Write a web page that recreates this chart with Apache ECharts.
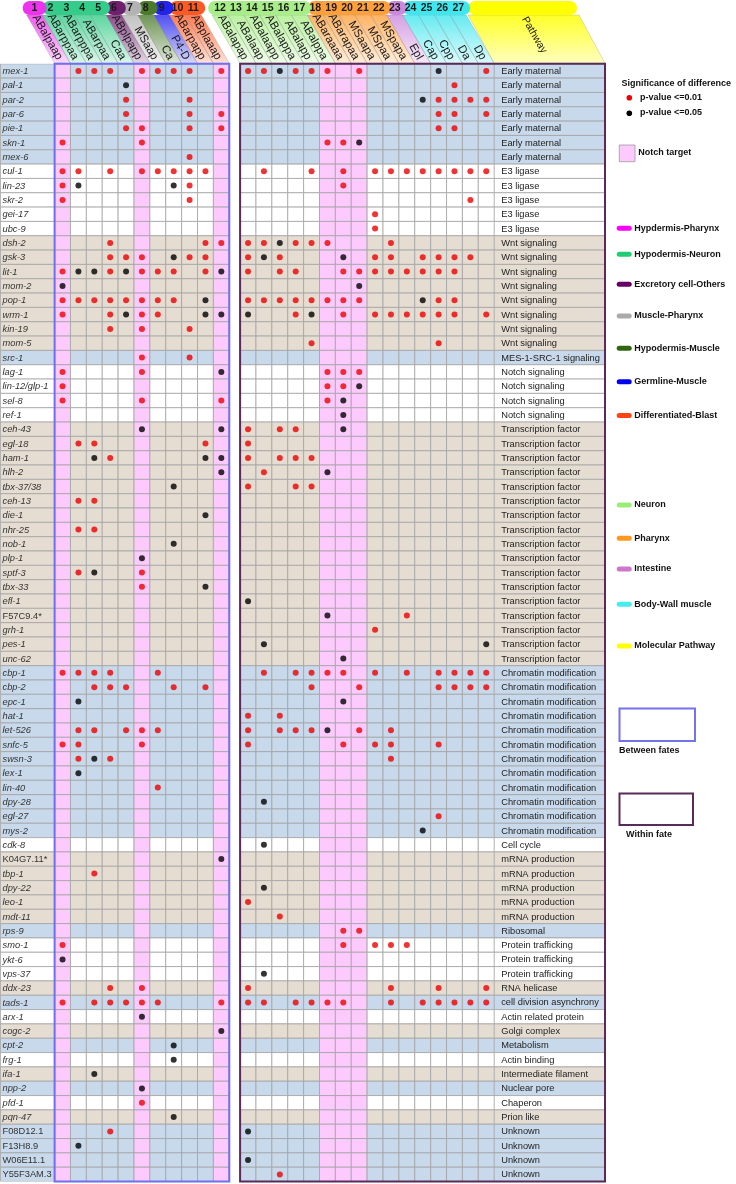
<!DOCTYPE html>
<html><head><meta charset="utf-8">
<script src="https://cdn.jsdelivr.net/npm/echarts@6/dist/echarts.min.js"></script>
<style>html,body{margin:0;padding:0;background:#fff;}#chart{width:736px;height:1184px;}</style>
</head><body><div id="chart"></div>
<script>
// ================= DATA =================
const columnLabels = ['ABalpaap','ABarppaa','ABarpppa','ABarpaa','Caa','ABplpapp','MSaap','Ca','P4-D','ABarpapp','ABplaaap',
  'ABalapap','ABalaap','ABalaapp','ABalappa','ABalapp','ABalppa','ABaraaaa','ABarapaa','MSaapa','MSpaa','MSpapa','Epl','Cap','Cpp','Da','Dp'];
const columnNumbers = ['1','2','3','4','5','6','7','8','9','10','11','12','13','14','15','16','17','18','19','20','21','22','23','24','25','26','27'];
const notchTargetColumns = [1, 6, 11, 17, 18, 19];
const fateGroupNames = ['Hypdermis-Pharynx','Hypodermis-Neuron','Excretory cell-Others','Muscle-Pharynx','Hypodermis-Muscle','Germline-Muscle','Differentiated-Blast','Neuron','Pharynx','Intestine','Body-Wall muscle'];
const fateGroupColumns = [[1,1],[2,5],[6,6],[7,7],[8,8],[9,9],[10,11],[12,17],[18,22],[23,23],[24,27]];

const genes = ['mex-1','pal-1','par-2','par-6','pie-1','skn-1','mex-6','cul-1','lin-23','skr-2','gei-17','ubc-9',
  'dsh-2','gsk-3','lit-1','mom-2','pop-1','wrm-1','kin-19','mom-5','src-1','lag-1','lin-12/glp-1','sel-8','ref-1',
  'ceh-43','egl-18','ham-1','hlh-2','tbx-37/38','ceh-13','die-1','nhr-25','nob-1','plp-1','sptf-3','tbx-33','efl-1',
  'F57C9.4*','grh-1','pes-1','unc-62','cbp-1','cbp-2','epc-1','hat-1','let-526','snfc-5','swsn-3','lex-1','lin-40',
  'dpy-28','egl-27','mys-2','cdk-8','K04G7.11*','tbp-1','dpy-22','leo-1','mdt-11','rps-9','smo-1','ykt-6','vps-37',
  'ddx-23','tads-1','arx-1','cogc-2','cpt-2','frg-1','ifa-1','npp-2','pfd-1','pqn-47','F08D12.1','F13H8.9','W06E11.1','Y55F3AM.3'];
const nonItalicGenes = ['F57C9.4*','K04G7.11*','F08D12.1','F13H8.9','W06E11.1','Y55F3AM.3'];

const pathways = ['Early maternal','Early maternal','Early maternal','Early maternal','Early maternal','Early maternal','Early maternal',
  'E3 ligase','E3 ligase','E3 ligase','E3 ligase','E3 ligase',
  'Wnt signaling','Wnt signaling','Wnt signaling','Wnt signaling','Wnt signaling','Wnt signaling','Wnt signaling','Wnt signaling',
  'MES-1-SRC-1 signaling',
  'Notch signaling','Notch signaling','Notch signaling','Notch signaling',
  'Transcription factor','Transcription factor','Transcription factor','Transcription factor','Transcription factor','Transcription factor',
  'Transcription factor','Transcription factor','Transcription factor','Transcription factor','Transcription factor','Transcription factor',
  'Transcription factor','Transcription factor','Transcription factor','Transcription factor','Transcription factor',
  'Chromatin modification','Chromatin modification','Chromatin modification','Chromatin modification','Chromatin modification','Chromatin modification',
  'Chromatin modification','Chromatin modification','Chromatin modification','Chromatin modification','Chromatin modification','Chromatin modification',
  'Cell cycle',
  'mRNA production','mRNA production','mRNA production','mRNA production','mRNA production',
  'Ribosomal',
  'Protein trafficking','Protein trafficking','Protein trafficking',
  'RNA helicase','cell division asynchrony','Actin related protein','Golgi complex','Metabolism','Actin binding',
  'Intermediate filament','Nuclear pore','Chaperon','Prion like',
  'Unknown','Unknown','Unknown','Unknown'];

// significance per gene row: columns 1-11 | 12-27 ; r = p<=0.01, k = p<=0.05
const marks = [
  '.rrr.rrrr.r rrkrrr.r....k..r','....k...... .............r..','....r...r.. ...........krrrr','....r...r.r ............rr.r',
  '....rr..r.r ............rr..','r....r..... .....rrk........','........r.. ................','rr.r.rrrrr. .r..r.r.rrrrrrrr',
  'rk.....kr.. ......r.........','r.......r.. ..............r.','........... ........r.......','........... ........r.......',
  '...r.....rr rrkrrr...r......','...rrr.krr. rkr...k.rr.rrrr.','rkkrkrrr.rk r.rr..rrrrrrrr..','k.......... .......k........',
  'rrrrrrrr.k. rrrrrrrr...krr..','r..rkrr..kk k..rk.r.rrrrrr.r','...r.r..r.. ................','........... ....r.......r...',
  '.....r..r.. ................','r....r....k .....rrr........','r.......... .....rrk........','r....r....r .....rk.........',
  '........... ......k.........','.....k....k r.rr..k.........','.rr......r. r...............','..kr.....kk r.rrr...........',
  '..........k .r...k..........','.......k... r..rr...........','.rr........ ................','.........k. ................',
  '.rr........ ................','.......k... ................','.....k..... ................','.rk..r..... ................',
  '.....r...k. ................','........... k...............','........... .....k....r.....','........... ........r.......',
  '........... .k.............k','........... ......k.........','rrrr..r.... .r.rrrr.r.r.rrrr','..rrr..r.r. ....r..r....rrrr',
  '.k......... ......k.........','........... r.r.............','.rr.rrr.... r.rrrk.r.r......','rr...r..... r.....r.rr..r...',
  '.rkr....... .........r......','.k......... ................','......r.... ................','........... .k..............',
  '........... ............r...','........... ...........k....','........... .k..............','..........k ................',
  '..r........ ................','........... .k..............','........... r...............','........... ..r.............',
  '........... ......rr........','r.......... ......r.rrr.....','k.......... ................','........... .k..............',
  '...r.r..... r........r..r..r','r.rrrrr...r rr.rrrr..r.rrrrr','.....k..... ................','..........k ................',
  '.......k... ................','.......k... ................','..k........ ................','.....k..... ................',
  '.....r..... ................','.......k... ................','...r....... k...............','.k......... ................',
  '........... k...............','........... ..r.............'
].map(s => s.replace(' ', ''));

// ================= STYLE / LAYOUT =================
const FONT = '"Liberation Sans", Arial, sans-serif';
const PINK = '#fccafc';
const BAND_COLORS = ['#c7d9eb', '#ffffff', '#e6ddd2'];
const LINE = '#a3a3a3';
const RED = '#ee0000', BLACK = '#000000';
const GROUP_COLORS = ['#ee33ee','#33cc88','#6e1f6e','#b3b3b3','#4a7a2a','#2323ee','#ff5a26','#a8ee88','#ffa03c','#cc88dd','#3ee6ee'];
const LEGEND_COLORS = ['#ff00ff','#22cc77','#660066','#aaaaaa','#336611','#0000ee','#ff4411','#99ee77','#ff9922','#cc77cc','#44eeee','#ffff00'];
const PATH_COLOR = '#ffff00';

const TOP = 63.8, ROWH = 14.33, NROW = genes.length, GH = NROW * ROWH;
const COLW = 15.88, NL = 11, NRC = 16;
const GENE_X = 0.5, L_X = 54.6, R_X = 240.1, P_X = R_X + NRC * COLW, P_END = 605;
const HSHIFT = 28, HBAR_TOP = 1, HBAR_BOT = 15;

const rowBand = [];
(function(){ let g = -1; pathways.forEach((p, i) => { if (i === 0 || p !== pathways[i - 1]) g++; rowBand.push(g % 3); }); })();
function fillFor(colNum, row) { return notchTargetColumns.indexOf(colNum) >= 0 ? PINK : BAND_COLORS[rowBand[row]]; }
function rectOf(api) {
  const p = api.coord([api.value(0), api.value(1)]);
  const s = api.size([1, 1]);
  return { x: p[0] - s[0] / 2, y: p[1] - s[1] / 2, width: s[0], height: s[1], cx: p[0], cy: p[1] };
}
function cellRender(params, api) {
  const r = rectOf(api);
  return { type: 'rect', shape: { x: r.x, y: r.y, width: r.width, height: r.height },
    style: { fill: fillFor(api.value(2), api.value(1)), stroke: LINE, lineWidth: 0.8 } };
}
function geneRender(params, api) {
  const r = rectOf(api); const i = api.value(1); const name = genes[i];
  const it = nonItalicGenes.indexOf(name) >= 0 ? '' : 'italic ';
  return { type: 'group', children: [
    { type: 'rect', shape: { x: r.x, y: r.y, width: r.width, height: r.height }, style: { fill: BAND_COLORS[rowBand[i]], stroke: LINE, lineWidth: 0.8 } },
    { type: 'text', style: { x: r.x + 2, y: r.cy + 0.5, text: name, font: it + '9.3px ' + FONT, fill: '#333', align: 'left', verticalAlign: 'middle', textAlign: 'left', textVerticalAlign: 'middle' } }
  ]};
}
function pathRender(params, api) {
  const r = rectOf(api); const i = api.value(1);
  return { type: 'group', children: [
    { type: 'rect', shape: { x: r.x, y: r.y, width: r.width, height: r.height }, style: { fill: BAND_COLORS[rowBand[i]], stroke: LINE, lineWidth: 0.8 } },
    { type: 'text', style: { x: r.x + 7, y: r.cy + 0.5, text: pathways[i], font: '9.3px ' + FONT, fill: '#222', align: 'left', verticalAlign: 'middle', textAlign: 'left', textVerticalAlign: 'middle' } }
  ]};
}

// series data built from arrays
const leftCells = [], rightCells = [], geneCells = [], pathCells = [];
const redL = [], blackL = [], redR = [], blackR = [];
genes.forEach((g, r) => {
  geneCells.push([0, r]); pathCells.push([0, r]);
  for (let c = 0; c < NL; c++) leftCells.push([c, r, c + 1]);
  for (let c = 0; c < NRC; c++) rightCells.push([c, r, c + 12]);
  const m = marks[r];
  for (let k = 0; k < m.length; k++) {
    const ch = m[k]; if (ch === '.') continue;
    if (k < NL) (ch === 'r' ? redL : blackL).push([k, r]);
    else (ch === 'r' ? redR : blackR).push([k - NL, r]);
  }
});

function colCenter(n) { return n <= NL ? L_X + (n - 0.5) * COLW : R_X + (n - NL - 0.5) * COLW; }
function slotCenter(n) { return colCenter(n) - HSHIFT; }
function hexA(hex, a) { const v = parseInt(hex.slice(1), 16); return 'rgba(' + (v >> 16) + ',' + ((v >> 8) & 255) + ',' + (v & 255) + ',' + a + ')'; }

// ================= GRAPHICS (header + legend) =================
const gfx = [];
columnLabels.forEach((lab, i) => {
  const n = i + 1;
  const gi = fateGroupColumns.findIndex(g => n >= g[0] && n <= g[1]);
  const col = GROUP_COLORS[gi];
  const sx = slotCenter(n), cx = colCenter(n), h = COLW / 2;
  gfx.push({ type: 'polygon', z: 1, shape: { points: [[sx - h, HBAR_BOT], [sx + h, HBAR_BOT], [cx + h, TOP - 0.5], [cx - h, TOP - 0.5]] },
    style: { fill: { type: 'linear', x: 0, y: 0, x2: 0, y2: 1, colorStops: [{ offset: 0, color: hexA(col, 0.8) }, { offset: 1, color: hexA(col, 0.18) }] },
      stroke: 'rgba(130,130,130,0.55)', lineWidth: 0.5 } });
});
gfx.push({ type: 'polygon', z: 1, shape: { points: [[P_X - 26, HBAR_BOT], [P_END - 26, HBAR_BOT], [P_END, TOP - 0.5], [P_X, TOP - 0.5]] },
  style: { fill: { type: 'linear', x: 0, y: 0, x2: 0, y2: 1, colorStops: [{ offset: 0, color: hexA(PATH_COLOR, 0.85) }, { offset: 1, color: hexA(PATH_COLOR, 0.25) }] },
    stroke: 'rgba(130,130,130,0.55)', lineWidth: 0.5 } });
const ang = Math.atan2(TOP - HBAR_BOT, HSHIFT);
columnLabels.forEach((lab, i) => {
  const n = i + 1; const sx = slotCenter(n), cx = colCenter(n);
  const yEnd = 59; const xEnd = sx + (cx - sx) * (yEnd - HBAR_BOT) / (TOP - HBAR_BOT);
  gfx.push({ type: 'text', z: 3, x: xEnd, y: yEnd, rotation: -ang,
    style: { text: lab, font: '11.5px ' + FONT, fill: '#1a1a1a', align: 'right', verticalAlign: 'middle', textAlign: 'right', textVerticalAlign: 'middle' } });
});
gfx.push({ type: 'text', z: 3, x: (P_X + P_END) / 2 - 26 + 26 * (35 - HBAR_BOT) / (TOP - HBAR_BOT), y: 35, rotation: -ang,
  style: { text: 'Pathway', font: '10.5px ' + FONT, fill: '#1a1a1a', align: 'center', verticalAlign: 'middle', textAlign: 'center', textVerticalAlign: 'middle' } });
gfx.push({ type: 'rect', z: 4, shape: { x: P_X - 26, y: HBAR_TOP, width: P_END - P_X - 2, height: HBAR_BOT - HBAR_TOP, r: 7 }, style: { fill: PATH_COLOR } });
for (let gi = fateGroupColumns.length - 1; gi >= 0; gi--) {
  const [a, b] = fateGroupColumns[gi];
  const first = (a === 1 || a === 12);
  const x0 = slotCenter(a) - COLW / 2 - (first ? 4 : 0);
  const x1 = slotCenter(b) + COLW / 2 + 4;
  gfx.push({ type: 'rect', z: 4, shape: { x: x0, y: HBAR_TOP, width: x1 - x0, height: HBAR_BOT - HBAR_TOP, r: 7 }, style: { fill: GROUP_COLORS[gi] } });
}
columnNumbers.forEach((t, i) => {
  gfx.push({ type: 'text', z: 5, x: slotCenter(i + 1), y: 8.5,
    style: { text: t, font: 'bold 10.5px ' + FONT, fill: '#1a1a1a', align: 'center', verticalAlign: 'middle', textAlign: 'center', textVerticalAlign: 'middle' } });
});
gfx.push({ type: 'rect', z: 20, shape: { x: L_X, y: TOP, width: NL * COLW, height: GH }, style: { fill: 'none', stroke: '#6f6fef', lineWidth: 2 } });
gfx.push({ type: 'rect', z: 20, shape: { x: R_X, y: TOP, width: P_END - R_X, height: GH }, style: { fill: 'none', stroke: '#5a2a5a', lineWidth: 2 } });

const LBOLD = 'bold 9px ' + FONT;
function ltext(t, x, y) { gfx.push({ type: 'text', z: 10, x: x, y: y, style: { text: t, font: LBOLD, fill: '#111', align: 'left', verticalAlign: 'middle', textAlign: 'left', textVerticalAlign: 'middle' } }); }
ltext('Significance of difference', 621.5, 83.5);
gfx.push({ type: 'circle', z: 10, shape: { cx: 629.3, cy: 97.7, r: 2.8 }, style: { fill: RED } });
ltext('p-value <=0.01', 640, 97.5);
gfx.push({ type: 'circle', z: 10, shape: { cx: 629.3, cy: 113.3, r: 2.8 }, style: { fill: BLACK } });
ltext('p-value <=0.05', 640, 113);
gfx.push({ type: 'rect', z: 10, shape: { x: 619.3, y: 145, width: 15.7, height: 16.7 }, style: { fill: PINK, stroke: '#999', lineWidth: 0.8 } });
ltext('Notch target', 638.3, 152.7);
const legendYs = [228.3, 254.3, 284.3, 316, 348.3, 381.7, 415.5, 505, 538.3, 569, 604.3, 646];
const legendNames = fateGroupNames.concat(['Molecular Pathway']);
legendNames.forEach((nm, i) => {
  gfx.push({ type: 'rect', z: 10, shape: { x: 616.7, y: legendYs[i] - 2.5, width: 15, height: 5, r: 2.5 }, style: { fill: LEGEND_COLORS[i] } });
  ltext(nm, 634.3, legendYs[i]);
});
gfx.push({ type: 'rect', z: 10, shape: { x: 619.5, y: 708.5, width: 75.5, height: 32.5 }, style: { fill: '#fff', stroke: '#7373ee', lineWidth: 2 } });
ltext('Between fates', 619, 751);
gfx.push({ type: 'rect', z: 10, shape: { x: 619.5, y: 793.5, width: 73.5, height: 31.5 }, style: { fill: '#fff', stroke: '#5a2a5a', lineWidth: 2 } });
ltext('Within fate', 626, 834.5);

// ================= CHART =================
const chart = echarts.init(document.getElementById('chart'), null, { renderer: 'canvas' });
const grids = [
  { left: GENE_X, top: TOP, width: L_X - GENE_X, height: GH },
  { left: L_X, top: TOP, width: NL * COLW, height: GH },
  { left: R_X, top: TOP, width: NRC * COLW, height: GH },
  { left: P_X, top: TOP, width: P_END - P_X, height: GH }
];
const xData = [['gene'], columnLabels.slice(0, NL), columnLabels.slice(NL), ['Pathway']];
const dot = (name, data, gi, color) => ({ name: name, type: 'scatter', xAxisIndex: gi, yAxisIndex: gi, data: data, symbol: 'circle', symbolSize: 6,
  itemStyle: { color: color }, z: 6, silent: true, animation: false });
chart.setOption({
  backgroundColor: '#ffffff',
  animation: false,
  grid: grids,
  xAxis: xData.map((d, i) => ({ gridIndex: i, type: 'category', data: d, show: false })),
  yAxis: grids.map((g, i) => ({ gridIndex: i, type: 'category', data: genes, inverse: true, show: false })),
  series: [
    { type: 'custom', name: 'genes', xAxisIndex: 0, yAxisIndex: 0, data: geneCells, renderItem: geneRender, z: 1, silent: true, clip: true },
    { type: 'custom', name: 'betweenFates', xAxisIndex: 1, yAxisIndex: 1, data: leftCells, renderItem: cellRender, z: 1, silent: true },
    { type: 'custom', name: 'withinFate', xAxisIndex: 2, yAxisIndex: 2, data: rightCells, renderItem: cellRender, z: 1, silent: true },
    { type: 'custom', name: 'pathway', xAxisIndex: 3, yAxisIndex: 3, data: pathCells, renderItem: pathRender, z: 1, silent: true, clip: true },
    dot('p-value <=0.01', redL, 1, RED), dot('p-value <=0.05', blackL, 1, BLACK),
    dot('p-value <=0.01 ', redR, 2, RED), dot('p-value <=0.05 ', blackR, 2, BLACK)
  ],
  graphic: { elements: gfx }
});
</script>
</body></html>
